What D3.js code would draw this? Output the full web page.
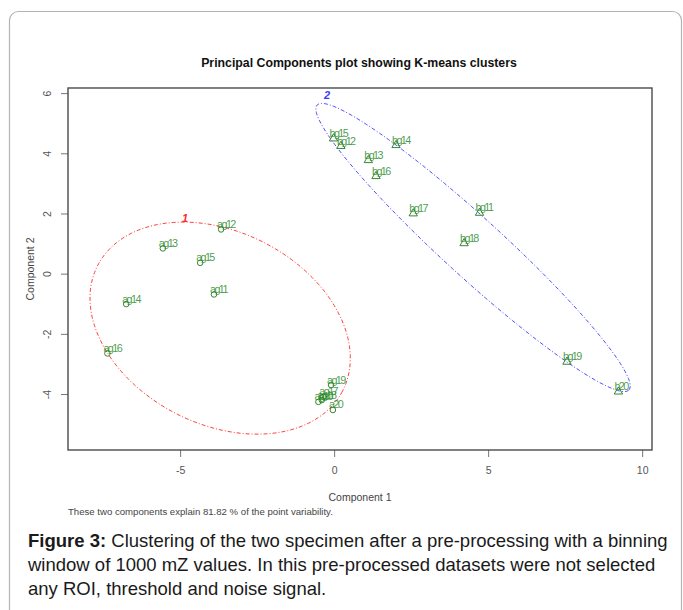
<!DOCTYPE html>
<html>
<head>
<meta charset="utf-8">
<script src="https://cdn.jsdelivr.net/npm/d3@7"></script>
<style>
  body { margin: 0; background: #fff; }
  svg { display: block; font-family: "Liberation Sans", Arial, sans-serif; }
</style>
</head>
<body>
<svg id="chart" width="683" height="610"></svg>
<script>
// Cluster 1 (plotted with circles)
var c1Labels = ['ag10', 'ag11', 'ag12', 'ag13', 'ag14', 'ag15', 'ag16', 'ag17', 'ag18', 'ag19', 'a20'];
var c1X = [-0.51, -3.90, -3.67, -5.56, -6.75, -4.35, -7.36, -0.35, -0.40, -0.10, -0.04];
var c1Y = [-4.26, -0.69, 1.47, 0.84, -1.01, 0.36, -2.65, -4.09, -4.20, -3.70, -4.53];

// Cluster 2 (plotted with triangles)
var c2Labels = ['bg11', 'bg12', 'bg13', 'bg14', 'bg15', 'bg16', 'bg17', 'bg18', 'bg19', 'b20'];
var c2X = [4.72, 0.22, 1.11, 2.01, -0.02, 1.36, 2.57, 4.22, 7.56, 9.23];
var c2Y = [2.02, 4.24, 3.77, 4.27, 4.49, 3.24, 2.00, 1.01, -2.93, -3.92];

// Cluster ellipses: centre, semi axes, rotation (degrees)
var ellipseNames = ['1', '2'];
var ellipseCx = [-3.70, 4.51];
var ellipseCy = [-1.81, 0.87];
var ellipseA = [4.49, 6.93];
var ellipseB = [3.18, 0.97];
var ellipseAngle = [-28.6, -43.1];
var ellipseLabelX = [-4.84, -0.23];
var ellipseLabelY = [1.85, 5.93];
var ellipseColors = ['#ff2a2a', '#3a3aff'];

var xTicks = [-5, 0, 5, 10];
var yTicks = [-4, -2, 0, 2, 4, 6];

var svg = d3.select('#chart');

//Outer panel border (rounded, runs off the right/bottom)
svg.append('rect')
    .attr('x', 9.5).attr('y', 11.5)
    .attr('width', 672).attr('height', 640)
    .attr('rx', 9)
    .attr('fill', 'none')
    .attr('stroke', '#b4b4b4')
    .attr('stroke-width', 1.2);

var plot = {left: 68, right: 652, top: 88, bottom: 450};

var x = d3.scaleLinear().domain([-8.64, 10.32]).range([plot.left, plot.right]);
var y = d3.scaleLinear().domain([-5.86, 6.17]).range([plot.bottom, plot.top]);

//Title
svg.append('text')
    .attr('x', 359).attr('y', 67)
    .attr('text-anchor', 'middle')
    .attr('font-size', 12.3)
    .attr('font-weight', 'bold')
    .attr('fill', '#111')
    .text('Principal Components plot showing K-means clusters');

//Axes
var xAxis = d3.axisBottom(x).tickValues(xTicks).tickSize(7).tickPadding(10).tickFormat(d3.format('d'));
var gx = svg.append('g')
    .attr('transform', 'translate(0,' + plot.bottom + ')')
    .call(xAxis);
gx.select('.domain').remove();
gx.selectAll('line').attr('stroke', '#777');
gx.selectAll('text').attr('font-size', 10.5).attr('fill', '#555').attr('font-family', '"Liberation Sans", Arial, sans-serif')
    .text(function(d) { return d < 0 ? '-' + Math.abs(d) : d; });

var yAxis = d3.axisLeft(y).tickValues(yTicks).tickSize(7);
var gy = svg.append('g')
    .attr('transform', 'translate(' + plot.left + ',0)')
    .call(yAxis);
gy.select('.domain').remove();
gy.selectAll('line').attr('stroke', '#777');
gy.selectAll('text')
    .attr('x', null).attr('dy', null)
    .attr('transform', 'translate(-17,0) rotate(-90)')
    .attr('text-anchor', 'middle')
    .attr('font-size', 10.5).attr('fill', '#555')
    .attr('font-family', '"Liberation Sans", Arial, sans-serif')
    .text(function(d) { return d < 0 ? '-' + Math.abs(d) : d; });

//Plot box
svg.append('rect')
    .attr('x', plot.left).attr('y', plot.top)
    .attr('width', plot.right - plot.left)
    .attr('height', plot.bottom - plot.top)
    .attr('fill', 'none')
    .attr('stroke', '#4a4a4a')
    .attr('stroke-width', 1.4);

//Axis titles
svg.append('text')
    .attr('x', (plot.left + plot.right) / 2).attr('y', 501)
    .attr('text-anchor', 'middle')
    .attr('font-size', 10.5).attr('fill', '#444')
    .text('Component 1');
svg.append('text')
    .attr('transform', 'translate(34,' + (plot.top + plot.bottom) / 2 + ') rotate(-90)')
    .attr('text-anchor', 'middle')
    .attr('font-size', 10.5).attr('fill', '#444')
    .text('Component 2');
svg.append('text')
    .attr('x', plot.left).attr('y', 515)
    .attr('font-size', 9.6).attr('fill', '#444')
    .text('These two components explain 81.82 % of the point variability.');

//Ellipses
var line = d3.line().curve(d3.curveLinearClosed);
ellipseNames.forEach(function(name, i) {
    var phi = ellipseAngle[i] * Math.PI / 180;
    var pts = d3.range(0, 2 * Math.PI, Math.PI / 90).map(function(t) {
        var ex = ellipseCx[i] + ellipseA[i] * Math.cos(t) * Math.cos(phi) - ellipseB[i] * Math.sin(t) * Math.sin(phi);
        var ey = ellipseCy[i] + ellipseA[i] * Math.cos(t) * Math.sin(phi) + ellipseB[i] * Math.sin(t) * Math.cos(phi);
        return [x(ex), y(ey)];
    });
    svg.append('path')
        .attr('d', line(pts))
        .attr('fill', 'none')
        .attr('stroke', ellipseColors[i])
        .attr('stroke-width', 0.9)
        .attr('stroke-dasharray', '4,2,1,2');
    svg.append('text')
        .attr('x', x(ellipseLabelX[i])).attr('y', y(ellipseLabelY[i]) + 4)
        .attr('text-anchor', 'middle')
        .attr('font-size', 11).attr('font-weight', 'bold').attr('font-style', 'italic')
        .attr('fill', ellipseColors[i])
        .text(name);
});

//Points + labels
var green = '#2a8a2a';
var c1 = c1Labels.map(function(l, i) { return {label: l, x: c1X[i], y: c1Y[i]}; });
var c2 = c2Labels.map(function(l, i) { return {label: l, x: c2X[i], y: c2Y[i]}; });

svg.selectAll('.p1').data(c1).enter().append('circle')
    .attr('class', 'p1')
    .attr('cx', function(d) { return x(d.x); })
    .attr('cy', function(d) { return y(d.y); })
    .attr('r', 2.8)
    .attr('fill', 'none').attr('stroke', '#1f7a1f').attr('stroke-width', 0.9);

svg.selectAll('.p2').data(c2).enter().append('path')
    .attr('class', 'p2')
    .attr('d', d3.symbol(d3.symbolTriangle, 30))
    .attr('transform', function(d) { return 'translate(' + x(d.x) + ',' + y(d.y) + ')'; })
    .attr('fill', 'none').attr('stroke', '#1f7a1f').attr('stroke-width', 0.9);

svg.selectAll('.lab').data(c1.concat(c2)).enter().append('text')
    .attr('class', 'lab')
    .attr('x', function(d) { return x(d.x) - 4; })
    .attr('y', function(d) { return y(d.y) - 1.5; })
    .attr('font-size', 10.8)
    .attr('letter-spacing', -1.6)
    .attr('fill', green)
    .attr('fill-opacity', 0.85)
    .text(function(d) { return d.label; });

//Figure caption
var caption = [
    [['Figure 3:', true], [' Clustering of the two specimen after a pre-processing with a binning', false]],
    [['window of 1000 mZ values. In this pre-processed datasets were not selected', false]],
    [['any ROI, threshold and noise signal.', false]]
];
caption.forEach(function(parts, i) {
    var t = svg.append('text')
        .attr('x', 28).attr('y', 547 + i * 24.2)
        .attr('font-size', 18.5).attr('fill', '#1a1a1a');
    parts.forEach(function(p) {
        t.append('tspan').attr('font-weight', p[1] ? 'bold' : 'normal').text(p[0]);
    });
});
</script>
</body>
</html>
